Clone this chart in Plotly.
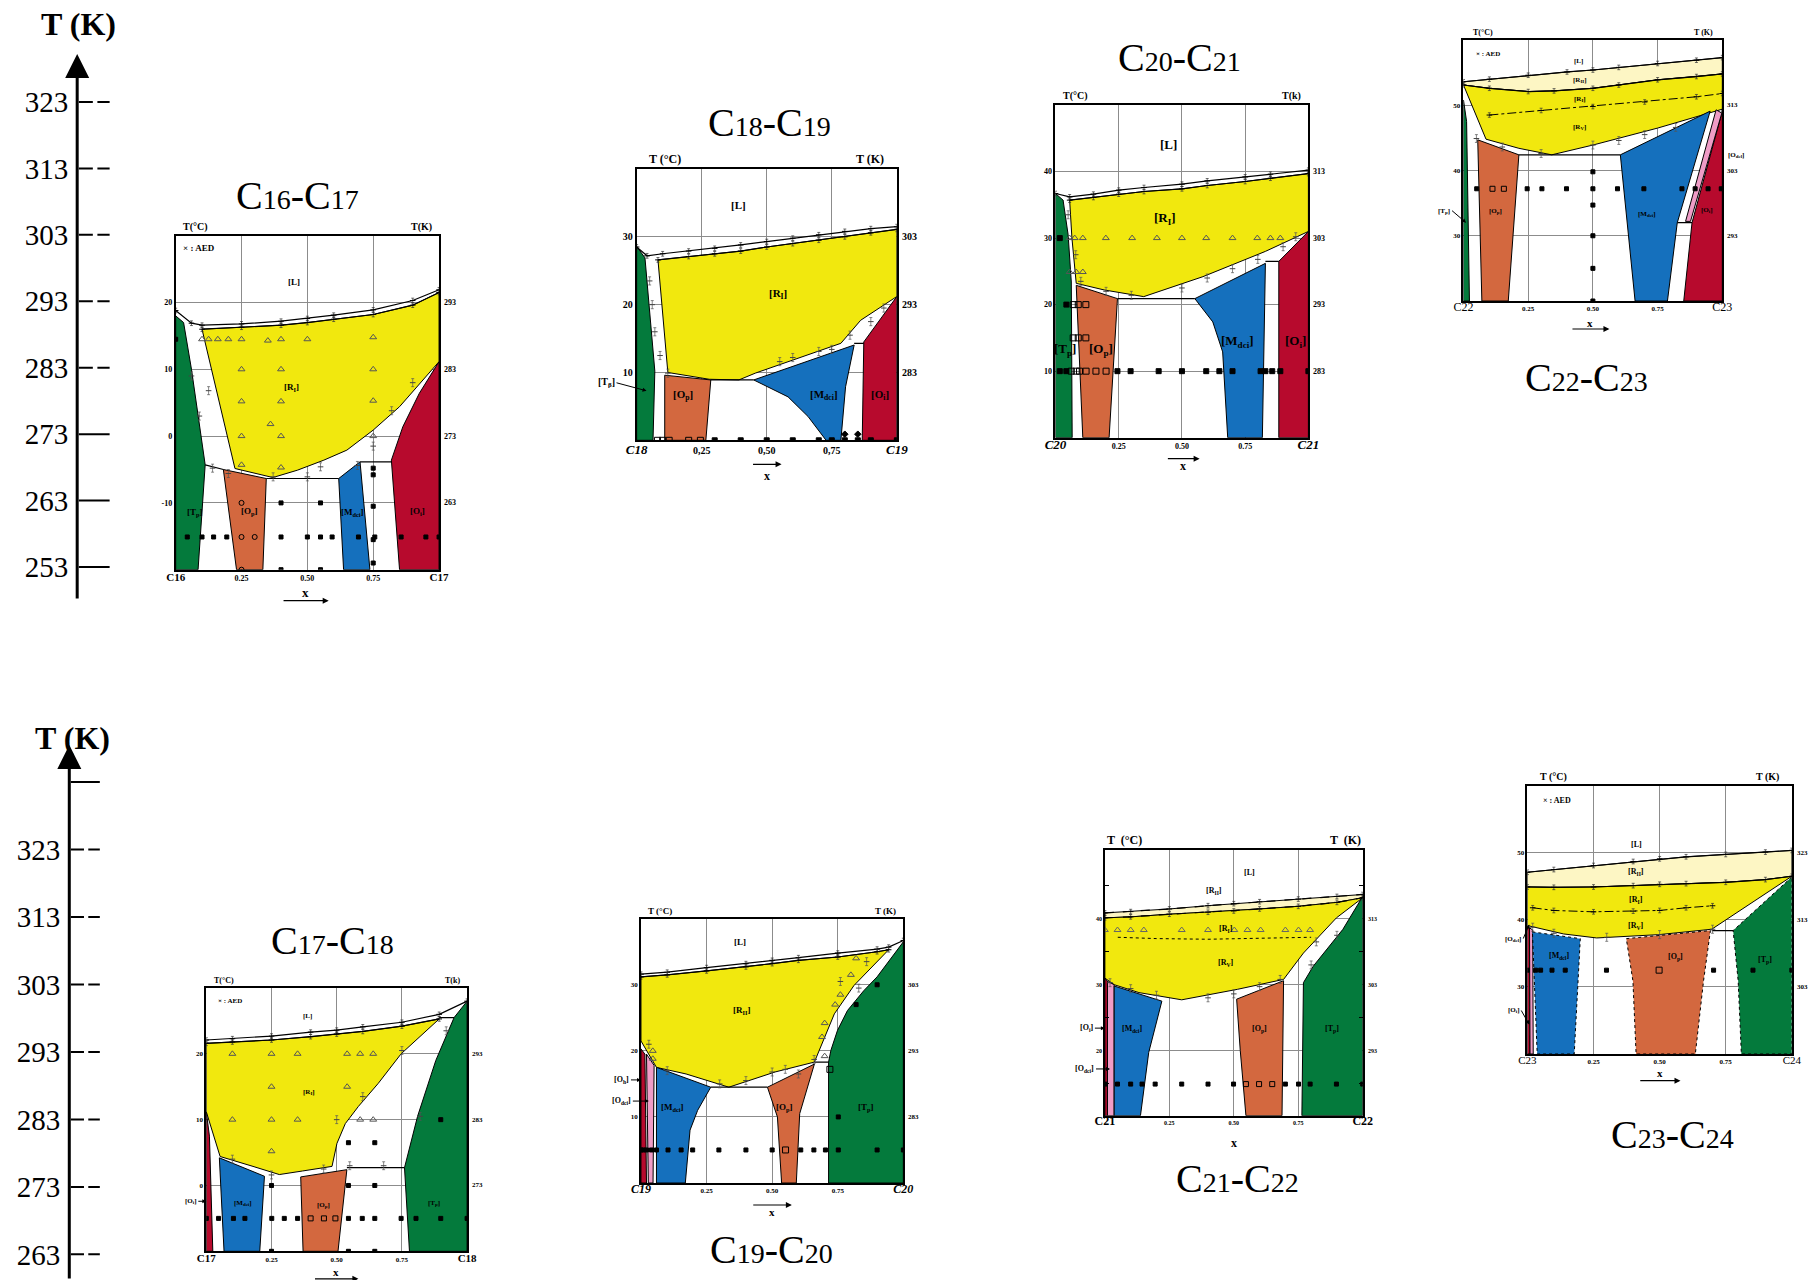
import plotly.graph_objects as go

W, H = 1816, 1280
SERIF = "Liberation Serif"

YELLOW = "#f1e80e"
PALE = "#fdf6c4"
GREEN = "#047a3c"
RED = "#b70a2d"
BLUE = "#1570bd"
ORANGE = "#d3683f"
PINK = "#ef9cc6"
GRID = "#8c8c8c"

# ---------------- left temperature scales (K) ----------------
K_TOP = [323, 313, 303, 293, 283, 273, 263, 253]
K_TOP_DASHED = [323, 313, 303, 293, 283]
K_BOT = [323, 313, 303, 293, 283, 273, 263]
K_BOT_UNLABELED = [333]

# ---------------- C16-C17 ----------------
D1_CT = [20, 10, 0, -10]
D1_KT = ["293", "283", "273", "263"]
D1_XT = ["C16", "0.25", "0.50", "0.75", "C17"]
D1_LIQ = ([0, 0.06, 0.1, 0.25, 0.4, 0.5, 0.6, 0.75, 0.9, 1.0], [18.8, 16.9, 16.6, 16.8, 17.2, 17.6, 18.1, 18.9, 20.3, 21.9])
D1_SOL = ([0.1, 0.25, 0.4, 0.5, 0.6, 0.75, 0.9, 1.0], [16.0, 16.3, 16.6, 17.0, 17.5, 18.2, 19.6, 21.5])
D1_YLOW = ([1.0, 0.9375, 0.85, 0.75, 0.65, 0.5625, 0.4625, 0.369, 0.225], [11.15, 8.4, 4.4, 0.9, -2.1, -3.6, -5.1, -6.2, -4.85])
D1_TP = ([0, 0, 0.03, 0.06, 0.112, 0.085], [-20, 18, 17.0, 10, -4.3, -20])
D1_OP = ([0.181, 0.344, 0.331, 0.231], [-5.0, -6.35, -20, -20])
D1_MDCI = ([0.619, 0.70, 0.7375, 0.6375], [-6.35, -3.85, -20, -20])
D1_OI = ([1.0, 0.925, 0.8625, 0.819, 0.85, 1.0], [11.15, 6.4, 1.4, -3.6, -20, -20])
D1_H1 = ([0.112, 0.181], [-4.3, -5.0])
D1_H2 = ([0.344, 0.619], [-6.35, -6.35])
D1_H3 = ([0.70, 0.819], [-3.85, -3.85])
D1_TRI = ([0.1, 0.125, 0.16, 0.2, 0.25, 0.35, 0.4, 0.5, 0.75, 0.25, 0.4, 0.75, 0.25, 0.4, 0.75, 0.36, 0.25, 0.4, 0.75, 0.25, 0.4],
          [14.5, 14.5, 14.5, 14.5, 14.5, 14.3, 14.5, 14.5, 14.8, 10, 10, 10, 5.2, 5.2, 5.3, 1.8, 0, 0, 0, -4.3, -4.7])
D1_SQ = ([0.1, 0.144, 0.194, 0.4, 0.5, 0.55, 0.594, 0.694, 0.756, 0.856, 0.95, 1.0, 0.4, 0.55, 0.75, 0.4, 0.55, 0.75, 0.75, 0.75, 0.75, 0.044, 0.0],
         [-15.1, -15.1, -15.1, -15.1, -15.1, -15.1, -15.1, -15.1, -15.1, -15.1, -15.1, -15.1, -10, -10, -10.5, -20, -20, -19, -4.8, -5.8, -15.5, -15.1, 14.5])
D1_OSQ = ([0.25, 0.3, 0.25, 0.25], [-15.1, -15.1, -10, -20])
D1_AED = ([0.06, 0.09, 0.125, 0.14, 0.2, 0.37, 0.5, 0.55, 0.69, 0.75, 0.82, 0.9],
          [9.0, 3.0, 6.8, -4.8, -5.6, -6.1, -6.1, -4.6, -4.4, -1.5, 3.8, 8.0])
D1_LABELS = [("[L]", 0.45, 23.0), ("[R<sub>I</sub>]", 0.44, 7.2), ("[T<sub>p</sub>]", 0.075, -11.5),
             ("[O<sub>p</sub>]", 0.28, -11.3), ("[M<sub>dci</sub>]", 0.67, -11.4), ("[O<sub>i</sub>]", 0.92, -11.3),
             ("× : AED", 0.09, 28.1)]

# ---------------- C18-C19 ----------------
D2_CT = [30, 20, 10]
D2_KT = ["303", "293", "283"]
D2_XT = ["C18", "0,25", "0,50", "0,75", "C19"]
D2_LIQ = ([0.0, 0.04, 0.1, 0.2, 0.3, 0.4, 0.5, 0.6, 0.7, 0.8, 0.9, 1.0], [28.5, 27.2, 27.5, 27.9, 28.3, 28.8, 29.3, 29.8, 30.3, 30.8, 31.2, 31.5])
D2_SOL = ([0.082, 0.2, 0.3, 0.4, 0.5, 0.6, 0.7, 0.8, 0.9, 1.0], [26.6, 27.1, 27.5, 27.9, 28.5, 29.0, 29.5, 30.0, 30.6, 31.1])
D2_YLOW = ([1.0, 0.861, 0.785, 0.456, 0.393, 0.279, 0.12], [21.2, 17.7, 14.3, 9.9, 8.9, 9.0, 10.0])
D2_TP = ([0, 0, 0.032, 0.07, 0.063], [0, 28.6, 26.9, 10.2, 0])
D2_OP = ([0.108, 0.285, 0.266, 0.108], [9.6, 8.9, 0, 0])
D2_MDCI = ([0.45, 0.836, 0.803, 0.785, 0.728, 0.659, 0.582], [8.9, 14.05, 7.9, 0, 0, 3.5, 6.4])
D2_OI = ([1.0, 0.873, 0.867, 1.0], [21.2, 14.5, 0, 0])
D2_H1 = ([0.285, 0.45], [8.9, 8.9])
D2_H2 = ([0.836, 0.873], [14.3, 14.3])
D2_SQ = ([0.3, 0.4, 0.5, 0.6, 0.7, 0.75, 0.8, 0.85, 0.9, 1.0], [0, 0, 0, 0, 0, 0, 0, 0, 0, 0])
D2_OSQ = ([0.08, 0.1, 0.125, 0.2, 0.245], [0, 0, 0, 0, 0])
D2_DIA = ([0.8, 0.85], [0.9, 0.9])
D2_AED = ([0.05, 0.06, 0.07, 0.09, 0.12, 0.55, 0.6, 0.7, 0.75, 0.82, 0.9, 0.95],
          [23.5, 20.0, 16.0, 12.5, 9.9, 11.6, 12.2, 13.1, 13.4, 15.5, 17.5, 19.5])
D2_LABELS = [("[L]", 0.39, 34.7), ("[R<sub>I</sub>]", 0.544, 21.5), ("[O<sub>p</sub>]", 0.177, 6.7),
             ("[M<sub>dci</sub>]", 0.72, 6.7), ("[O<sub>i</sub>]", 0.937, 6.7)]

# ---------------- C20-C21 ----------------
D3_CT = [40, 30, 20, 10]
D3_KT = ["313", "303", "293", "283"]
D3_XT = ["C20", "0.25", "0.50", "0.75", "C21"]
D3_LIQ = ([0, 0.056, 0.15, 0.25, 0.35, 0.5, 0.6, 0.75, 0.85, 1.0], [36.7, 36.2, 36.6, 37.2, 37.6, 38.1, 38.6, 39.2, 39.6, 40.2])
D3_SOL = ([0.056, 0.15, 0.25, 0.35, 0.5, 0.6, 0.75, 0.85, 1.0], [35.7, 36.1, 36.6, 37.0, 37.4, 37.9, 38.5, 39.0, 39.7])
D3_YLOW = ([1.0, 0.83, 0.583, 0.349, 0.193, 0.082, 0.065], [31.0, 28.0, 24.2, 21.2, 22.2, 23.2, 30.0])
D3_TP = ([0, 0, 0.03, 0.05, 0.0625, 0.066], [0, 36.7, 35.7, 30.5, 23.4, 0])
D3_OP = ([0.082, 0.245, 0.212, 0.108], [22.9, 20.9, 0, 0])
D3_MDCI = ([0.551, 0.83, 0.818, 0.681, 0.661, 0.622], [20.9, 26.2, 0, 0, 12.9, 17.4])
D3_OI = ([1.0, 0.883, 0.883, 1.0], [31.0, 26.5, 0, 0])
D3_H1 = ([0.245, 0.551], [20.9, 20.9])
D3_H2 = ([0.83, 0.883], [26.5, 26.5])
D3_TRI = ([0.056, 0.076, 0.108, 0.199, 0.303, 0.401, 0.5, 0.596, 0.7, 0.798, 0.85, 0.889, 0.056, 0.082, 0.108],
          [30, 30, 30, 30, 30, 30, 30, 30, 30, 30, 30, 30, 24.9, 24.9, 24.9])
D3_SQ = ([0.017, 0.043, 0.245, 0.297, 0.408, 0.5, 0.596, 0.648, 0.7, 0.811, 0.83, 0.857, 0.889, 1.0, 0.017, 0.043],
         [10, 10, 10, 10, 10, 10, 10, 10, 10, 10, 10, 10, 10, 10, 30, 20])
D3_OSQ = ([0.0625, 0.082, 0.095, 0.121, 0.16, 0.2, 0.07, 0.09, 0.12, 0.07, 0.09, 0.12],
          [10, 10, 10, 10, 10, 10, 20, 20, 20, 15, 15, 15])
D3_AED = ([0.05, 0.08, 0.1, 0.2, 0.3, 0.5, 0.6, 0.7, 0.8, 0.9, 0.95],
          [33.5, 27.5, 23.5, 22.0, 21.4, 22.5, 24.0, 25.4, 26.8, 28.7, 30.2])
D3_LABELS = [("[L]", 0.447, 44.0), ("[R<sub>I</sub>]", 0.434, 33.0), ("[T<sub>p</sub>]", 0.036, 13.2),
             ("[O<sub>p</sub>]", 0.18, 13.2), ("[M<sub>dci</sub>]", 0.72, 14.4), ("[O<sub>i</sub>]", 0.948, 14.4)]

# ---------------- C22-C23 ----------------
D4_CT = [50, 40, 30]
D4_KT = ["313", "303", "293"]
D4_XT = ["C22", "0.25", "0.50", "0.75", "C23"]
D4_LIQ = ([0, 0.1, 0.25, 0.4, 0.5, 0.6, 0.75, 0.9, 1.0], [53.6, 54.0, 54.6, 55.1, 55.4, 55.8, 56.4, 56.9, 57.3])
D4_SOL = ([0, 0.1, 0.25, 0.35, 0.5, 0.6, 0.75, 0.9, 1.0], [53.1, 52.6, 52.1, 52.2, 52.6, 53.1, 53.9, 54.4, 54.8])
D4_RV = ([0.1, 0.3, 0.5, 0.7, 0.9, 1.0], [48.5, 49.2, 49.8, 50.5, 51.3, 51.8])
D4_YLOW = ([1.0, 0.75, 0.5, 0.341, 0.214, 0.087], [49.4, 46.5, 43.9, 42.4, 43.4, 44.8])
D4_TP = ([0, 0, 0.012, 0.023], [20, 50.8, 47.5, 20])
D4_OP = ([0.055, 0.214, 0.173, 0.071], [44.7, 42.4, 20, 20])
D4_MDCI = ([0.606, 0.953, 0.826, 0.788, 0.663, 0.634], [42.4, 49.1, 32.0, 20, 20, 31.4])
D4_OI = ([0.998, 1.0, 1.0, 0.851, 0.883], [48.8, 49.4, 20, 20, 32.0])
D4_ODCI = ([0.976, 0.998, 0.877, 0.858], [49.3, 48.8, 32.2, 32.2])
D4_H1 = ([0.214, 0.606], [42.4, 42.4])
D4_H2 = ([0.826, 0.883], [32.0, 32.0])
D4_SQ = ([0.051, 0.246, 0.303, 0.398, 0.5, 0.595, 0.697, 0.844, 0.895, 0.945, 0.996, 0.5, 0.5, 0.5, 0.5, 0.5],
         [37.2, 37.2, 37.2, 37.2, 37.2, 37.2, 37.2, 37.2, 37.2, 37.2, 37.2, 39.8, 34.7, 30, 25, 20])
D4_OSQ = ([0.112, 0.156], [37.2, 37.2])
D4_AED = ([0.05, 0.15, 0.3, 0.5, 0.6, 0.7, 0.82], [44.9, 43.6, 42.6, 43.9, 44.6, 45.5, 46.6])
D4_LABELS = [("[L]", 0.443, 56.8), ("[R<sub>II</sub>]", 0.449, 53.8), ("[R<sub>I</sub>]", 0.449, 50.9),
             ("[R<sub>V</sub>]", 0.449, 46.6), ("[O<sub>p</sub>]", 0.122, 33.8), ("[M<sub>dci</sub>]", 0.71, 33.4),
             ("[O<sub>i</sub>]", 0.94, 33.9), ("× : AED", 0.093, 57.9)]

# ---------------- C17-C18 ----------------
D5_CT = [20, 10, 0]
D5_KT = ["293", "283", "273"]
D5_XT = ["C17", "0.25", "0.50", "0.75", "C18"]
D5_LIQ = ([0, 0.1, 0.25, 0.4, 0.5, 0.6, 0.75, 0.893, 1.0], [22.1, 22.3, 22.7, 23.3, 23.6, 24.1, 24.8, 26.0, 28.0])
D5_SOL = ([0, 0.1, 0.25, 0.4, 0.5, 0.6, 0.75, 0.893], [21.6, 21.8, 22.1, 22.6, 23.0, 23.4, 24.2, 25.3])
D5_YLOW = ([0.747, 0.659, 0.583, 0.533, 0.501, 0.482, 0.369, 0.28, 0.179, 0.053, 0],
           [20.0, 15.5, 12.0, 9.4, 6.4, 2.9, 2.2, 1.66, 2.9, 4.4, 11.2])
D5_OI = ([0, 0.012, 0.025, 0], [11.2, 7.5, -10, -10])
D5_MDCI = ([0.05, 0.223, 0.205, 0.068], [4.2, 1.4, -10, -10])
D5_OP = ([0.362, 0.539, 0.505, 0.371], [1.3, 2.4, -10, -10])
D5_TP = ([1.0, 0.95, 0.88, 0.81, 0.76, 0.779, 1.0], [28.0, 25.5, 19.0, 10.5, 2.7, -10, -10])
D5_H1 = ([0.539, 0.76], [2.7, 2.7])
D5_H2 = ([0.893, 0.95], [25.5, 25.5])
D5_TRI = ([0.1, 0.25, 0.35, 0.54, 0.59, 0.64, 0.25, 0.54, 0.1, 0.25, 0.35, 0.25, 0.59, 0.64],
          [20, 20, 20, 20, 20, 20, 15, 15, 10, 10, 10, 5.2, 10, 10])
D5_SQ = ([0.0, 0.047, 0.104, 0.148, 0.251, 0.299, 0.35, 0.545, 0.598, 0.646, 0.747, 0.804, 0.899, 1.0, 0.25, 0.545, 0.646, 0.25, 0.545, 0.646, 0.545, 0.646, 0.899],
         [-5, -5, -5, -5, -5, -5, -5, -5, -5, -5, -5, -5, -5, -5, 0, 0, 0, -10, -10, -10, 6.5, 6.5, 10])
D5_OSQ = ([0.4, 0.451, 0.495], [-5, -5, -5])
D5_AED = ([0.1, 0.25, 0.45, 0.5, 0.55, 0.6, 0.68, 0.75, 0.82, 0.92],
          [4.0, 1.6, 2.5, 10.0, 3.0, 13.5, 3.0, 20.5, 10.5, 23.5])
D5_LABELS = [("[L]", 0.388, 25.8), ("[R<sub>I</sub>]", 0.394, 14.2), ("[M<sub>dci</sub>]", 0.14, -2.6),
             ("[O<sub>p</sub>]", 0.45, -2.9), ("[T<sub>p</sub>]", 0.874, -2.6), ("× : AED", 0.091, 28.0)]

# ---------------- C19-C20 ----------------
D6_CT = [30, 20, 10]
D6_KT = ["303", "293", "283"]
D6_XT = ["C19", "0.25", "0.50", "0.75", "C20"]
D6_LIQ = ([0, 0.1, 0.25, 0.4, 0.5, 0.6, 0.75, 0.9, 0.944, 1.0], [31.6, 31.9, 32.6, 33.2, 33.7, 34.1, 34.8, 35.4, 35.7, 36.7])
D6_SOL = ([0, 0.1, 0.25, 0.4, 0.5, 0.6, 0.75, 0.9, 0.944], [31.2, 31.5, 32.1, 32.7, 33.2, 33.7, 34.2, 35.0, 35.3])
D6_YLOW = ([0.812, 0.737, 0.661, 0.511, 0.335, 0.172, 0.059, 0], [29.9, 25.6, 18.3, 16.8, 14.5, 16.5, 17.5, 21.5])
D6_OH = ([0, 0.015, 0.021, 0], [20.3, 19.5, 0, 0])
D6_ODCI = ([0.021, 0.05, 0.046, 0.028], [19.5, 17.8, 0, 0])
D6_MDCI = ([0.059, 0.266, 0.216, 0.187, 0.169, 0.059], [17.5, 14.5, 11, 8, 0, 0])
D6_OP = ([0.482, 0.661, 0.605, 0.592, 0.536, 0.52], [14.5, 18.0, 10.5, 0, 0, 10])
D6_TP = ([1.0, 0.9, 0.849, 0.787, 0.749, 0.724, 0.715, 0.715, 1.0], [36.5, 31.2, 29.1, 26.1, 23.1, 20.1, 18.3, 0, 0])
D6_H1 = ([0.266, 0.482], [14.5, 14.5])
D6_H2 = ([0.661, 0.715], [18.3, 18.3])
D6_TRI = ([0.82, 0.8, 0.76, 0.74, 0.7, 0.69, 0.7, 0.045, 0.045], [34.0, 31.5, 28.5, 27.0, 24.2, 22.1, 19.2, 20.0, 18.8])
D6_SQ = ([0, 0.009, 0.021, 0.04, 0.059, 0.103, 0.153, 0.197, 0.297, 0.4, 0.5, 0.609, 0.659, 0.703, 0.752, 0.9, 1.0, 0.9, 0.752, 0.82],
         [5, 5, 5, 5, 5, 5, 5, 5, 5, 5, 5, 5, 5, 5, 5, 5, 5, 30, 10, 27])
D6_OSQ = ([0.551, 0.72], [5, 17.2])
D6_AED = ([0.03, 0.1, 0.3, 0.4, 0.5, 0.55, 0.6, 0.66, 0.76, 0.83, 0.86],
          [21.0, 17.0, 15.0, 15.5, 16.8, 17.2, 16.5, 18.7, 30.5, 29.5, 33.5])
D6_LABELS = [("[L]", 0.379, 36.5), ("[R<sub>II</sub>]", 0.382, 26.1), ("[M<sub>dci</sub>]", 0.122, 11.4),
             ("[O<sub>p</sub>]", 0.548, 11.4), ("[T<sub>p</sub>]", 0.856, 11.4)]

# ---------------- C21-C22 ----------------
D7_CT = [40, 30, 20]
D7_KT = ["313", "303", "293"]
D7_MINOR = [15, 25, 35, 45]
D7_XT = ["C21", "0.25", "0.50", "0.75", "C22"]
D7_LIQ = ([0, 0.1, 0.25, 0.4, 0.5, 0.6, 0.75, 0.9, 1.0], [40.9, 41.1, 41.5, 42.0, 42.3, 42.6, 43.0, 43.4, 43.7])
D7_SOL = ([0, 0.1, 0.25, 0.4, 0.5, 0.6, 0.75, 0.9, 1.0], [40.15, 40.3, 40.7, 41.0, 41.2, 41.5, 41.9, 42.5, 43.2])
D7_RV = ([0.05, 0.2, 0.4, 0.6, 0.8], [37.2, 37.0, 36.9, 37.0, 37.2])
D7_YLOW = ([0.898, 0.77, 0.693, 0.515, 0.298, 0.132, 0.036, 0], [40.15, 34.8, 30.8, 29.3, 27.7, 28.8, 30.0, 31.0])
D7_OI = ([0, 0.01, 0.01, 0], [31.0, 30.5, 10.1, 10.1])
D7_ODCI = ([0.01, 0.036, 0.036, 0.01], [30.5, 30.0, 10.1, 10.1])
D7_MDCI = ([0.036, 0.221, 0.17, 0.138, 0.036], [29.8, 27.5, 19.7, 10.1, 10.1])
D7_OP = ([0.511, 0.693, 0.687, 0.547, 0.525], [27.8, 30.6, 10.1, 10.1, 20.0])
D7_TP = ([1.0, 0.923, 0.808, 0.77, 0.764, 1.0], [43.4, 38.4, 32.8, 30.3, 10.1, 10.1])
D7_TRI = ([0.0, 0.049, 0.1, 0.151, 0.298, 0.4, 0.502, 0.553, 0.604, 0.7, 0.751, 0.796],
          [38.3, 38.3, 38.3, 38.3, 38.3, 38.3, 38.3, 38.3, 38.3, 38.3, 38.3, 38.3])
D7_SQ = ([0, 0.049, 0.1, 0.144, 0.195, 0.298, 0.4, 0.499, 0.7, 0.751, 0.796, 0.898, 1.0],
         [14.9, 14.9, 14.9, 14.9, 14.9, 14.9, 14.9, 14.9, 14.9, 14.9, 14.9, 14.9, 14.9])
D7_OSQ = ([0.547, 0.598, 0.649], [14.9, 14.9, 14.9])
D7_AED = ([0.02, 0.1, 0.2, 0.4, 0.5, 0.6, 0.68, 0.82, 0.9, 0.8], [30.3, 29.4, 28.4, 28.0, 28.6, 29.7, 30.8, 36.5, 37.5, 33.0])
D7_LABELS = [("[L]", 0.559, 47.0), ("[R<sub>II</sub>]", 0.425, 44.3), ("[R<sub>I</sub>]", 0.47, 38.4),
             ("[R<sub>V</sub>]", 0.47, 33.3), ("[M<sub>dci</sub>]", 0.106, 23.2), ("[O<sub>p</sub>]", 0.598, 23.2),
             ("[T<sub>p</sub>]", 0.879, 23.2)]

# ---------------- C23-C24 ----------------
D8_CT = [50, 40, 30]
D8_KT = ["323", "313", "303"]
D8_XT = ["C23", "0.25", "0.50", "0.75", "C24"]
D8_LIQ = ([0, 0.1, 0.25, 0.4, 0.5, 0.6, 0.75, 0.9, 1.0], [47.1, 47.5, 48.1, 48.7, 49.1, 49.4, 49.75, 50.1, 50.35])
D8_SOL = ([0, 0.1, 0.25, 0.4, 0.5, 0.6, 0.75, 0.9, 1.0], [44.9, 44.85, 44.9, 45.1, 45.3, 45.4, 45.6, 46.0, 46.5])
D8_RV = ([0.02, 0.1, 0.25, 0.4, 0.5, 0.6, 0.7], [41.8, 41.4, 41.2, 41.3, 41.4, 41.8, 42.1])
D8_YLOW = ([0.697, 0.498, 0.262, 0.137, 0], [38.6, 37.8, 37.3, 37.9, 39.15])
D8_OI = ([0, 0.008, 0.01, 0], [39.1, 38.8, 20, 20])
D8_ODCI = ([0.008, 0.02, 0.022, 0.01], [38.8, 38.5, 20, 20])
D8_MDCI = ([0.019, 0.2, 0.177, 0.037], [38.2, 37.2, 20, 20])
D8_OP = ([0.374, 0.692, 0.666, 0.635, 0.411, 0.399], [37.2, 38.4, 30.9, 20, 20, 30.9])
D8_TP = ([1.0, 0.778, 0.797, 0.809, 1.0], [46.4, 38.4, 30.9, 20, 20])
D8_H1 = ([0.697, 0.778], [38.4, 38.4])
D8_SQ = ([0, 0.031, 0.05, 0.093, 0.143, 0.299, 0.704, 0.853, 1.0], [32.5, 32.5, 32.5, 32.5, 32.5, 32.5, 32.5, 32.5, 32.5])
D8_OSQ = ([0.498], [32.5])
D8_AED = ([0.02, 0.1, 0.3, 0.5, 0.7], [38.9, 38.0, 37.4, 37.8, 38.6])
D8_LABELS = [("[L]", 0.411, 51.2), ("[R<sub>II</sub>]", 0.411, 47.1), ("[R<sub>I</sub>]", 0.411, 43.0),
             ("[R<sub>V</sub>]", 0.411, 39.1), ("[M<sub>dcl</sub>]", 0.118, 34.6), ("[O<sub>p</sub>]", 0.56, 34.4),
             ("[T<sub>p</sub>]", 0.897, 34.0), ("× : AED", 0.112, 57.8)]

fig = go.Figure()
axes = {}
ann = []


def ids(i):
    return ("x", "y") if i == 1 else (f"x{i}", f"y{i}")


def join(a, b):
    return (list(a[0]) + list(b[0]), list(a[1]) + list(b[1]))


def rev(a):
    return (list(a[0])[::-1], list(a[1])[::-1])


def poly(i, p, color, dash="solid"):
    xa, ya = ids(i)
    xs, ts = list(p[0]), list(p[1])
    fig.add_trace(go.Scatter(x=xs + [xs[0]], y=ts + [ts[0]], mode="lines", fill="toself", fillcolor=color,
                             line=dict(color="black", width=1, dash=dash), xaxis=xa, yaxis=ya,
                             hoverinfo="skip", showlegend=False))


def curve(i, p, dash="solid", err=True, width=1.2):
    xa, ya = ids(i)
    fig.add_trace(go.Scatter(x=p[0], y=p[1], mode="lines+markers" if err else "lines",
                             line=dict(color="black", width=width, dash=dash),
                             marker=dict(symbol="line-ew", size=4, color="black", line=dict(width=1, color="black")),
                             error_y=dict(type="constant", value=0.35, width=1.5, thickness=0.7, color="#333", visible=err),
                             xaxis=xa, yaxis=ya, hoverinfo="skip", showlegend=False))


def dots(i, p, symbol, size=4, color="black", err=False):
    xa, ya = ids(i)
    kw = {}
    if err:
        kw["error_y"] = dict(type="constant", value=0.6, width=1.5, thickness=0.7, color="#555")
    fig.add_trace(go.Scatter(x=p[0], y=p[1], mode="markers",
                             marker=dict(symbol=symbol, size=size, color=color, line=dict(width=1, color=color)),
                             xaxis=xa, yaxis=ya, hoverinfo="skip", showlegend=False, **kw))


def labels(i, items, size):
    xa, ya = ids(i)
    for text, x, t in items:
        ann.append(dict(x=x, y=t, xref=xa, yref=ya, text=f"<b>{text}</b>", showarrow=False,
                        font=dict(family=SERIF, size=size, color="black")))


def callout(i, text, x, t, ax, ay, size, xanchor="center"):
    xa, ya = ids(i)
    ann.append(dict(x=x, y=t, xref=xa, yref=ya, text=f"<b>{text}</b>", showarrow=True, ax=ax, ay=ay,
                    arrowhead=2, arrowsize=0.8, arrowwidth=1, arrowcolor="black", xanchor=xanchor,
                    font=dict(family=SERIF, size=size, color="black")))


def setup(i, box, trange, cvals, ktext, xt, heads, fs, cstyle, title, tpos, xarrow, minor=None):
    x0, y0, x1, y1 = box
    xa, ya = ids(i)
    key = "" if i == 1 else str(i)
    tick_fs, c_fs, head_fs, x_fs = fs
    b0, b1 = ("<b>", "</b>") if "b" in cstyle else ("", "")
    i0, i1 = ("<i>", "</i>") if "i" in cstyle else ("", "")
    ticktext = []
    for k, s in enumerate(xt):
        if k in (0, 4):
            ticktext.append(f"<span style='font-size:{c_fs}px'>{b0}{i0}{s}{i1}{b1}</span>")
        else:
            ticktext.append(f"<b>{s}</b>")
    axes["xaxis" + key] = dict(domain=[x0 / W, x1 / W], range=[0, 1], anchor=ya, tickmode="array",
                               tickvals=[0, 0.25, 0.5, 0.75, 1], ticktext=ticktext, showgrid=True,
                               gridcolor=GRID, gridwidth=1, showline=True, linecolor="black", linewidth=1.6,
                               mirror=True, ticks="", zeroline=False, fixedrange=True,
                               tickfont=dict(family=SERIF, size=tick_fs, color="black"))
    yd = dict(domain=[1 - y1 / H, 1 - y0 / H], range=trange, anchor=xa, tickmode="array", tickvals=cvals,
              ticktext=[f"<b>{v}</b>" for v in cvals], showgrid=True, gridcolor=GRID, gridwidth=1,
              showline=True, linecolor="black", linewidth=1.6, mirror=True, ticks="", zeroline=False,
              fixedrange=True, tickfont=dict(family=SERIF, size=tick_fs, color="black"))
    if minor:
        yd["mirror"] = "ticks"
        yd["minor"] = dict(tickmode="array", tickvals=minor, ticks="inside", ticklen=4, tickcolor="black", showgrid=False)
    axes["yaxis" + key] = yd
    for v, k in zip(cvals, ktext):
        ann.append(dict(x=1, xref=f"{xa} domain", y=v, yref=ya, text=f"<b>{k}</b>", xanchor="left", xshift=3,
                        showarrow=False, font=dict(family=SERIF, size=tick_fs, color="black")))
    hl, hr, hx = heads
    ann.append(dict(x=hx, xref=f"{xa} domain", y=1, yref=f"{ya} domain", text=f"<b>{hl}</b>", yanchor="bottom",
                    yshift=1, showarrow=False, font=dict(family=SERIF, size=head_fs, color="black")))
    ann.append(dict(x=1 - hx, xref=f"{xa} domain", y=1, yref=f"{ya} domain", text=f"<b>{hr}</b>", yanchor="bottom",
                    yshift=1, showarrow=False, font=dict(family=SERIF, size=head_fs, color="black")))
    bh = y1 - y0
    bw = x1 - x0
    xs, xe, aoff, loff = xarrow
    ann.append(dict(x=(xs + xe) / 2 if xs is not None else 0.5, xref=f"{xa} domain", y=-loff / bh,
                    yref=f"{ya} domain", text="<b>x</b>", showarrow=False, yanchor="middle",
                    font=dict(family=SERIF, size=x_fs, color="black")))
    if xs is not None:
        ann.append(dict(x=xe, xref=f"{xa} domain", y=-aoff / bh, yref=f"{ya} domain", text="", showarrow=True,
                        ax=-(xe - xs) * bw, ay=0, arrowhead=2, arrowsize=1, arrowwidth=1.2, arrowcolor="black"))
    a, b = title
    small = "<span style='font-size:28px'>"
    ann.append(dict(x=tpos[0] / W, y=1 - tpos[1] / H, xref="paper", yref="paper",
                    text=f"C{small}{a}</span>-C{small}{b}</span>", showarrow=False,
                    font=dict(family=SERIF, size=40, color="black"), xanchor="center", yanchor="middle"))


# ---------------- draw diagrams ----------------
# 1: C16-C17
poly(1, D1_TP, GREEN)
poly(1, join(D1_SOL, D1_YLOW), YELLOW)
poly(1, D1_OP, ORANGE)
poly(1, D1_MDCI, BLUE)
poly(1, D1_OI, RED)
curve(1, D1_LIQ)
curve(1, D1_SOL)
for h in (D1_H1, D1_H2, D1_H3):
    curve(1, h, err=False)
dots(1, D1_AED, "line-ew", 4, "#444", err=True)
dots(1, D1_TRI, "triangle-up-open", 6, "#555")
dots(1, D1_SQ, "square", 4)
dots(1, D1_OSQ, "circle-open", 5)
labels(1, D1_LABELS, 9)
setup(1, (166.7, 235.7, 433.3, 569.7), [-20, 30], D1_CT, D1_KT, D1_XT, ("T(°C)", "T(K)", 0.02), (8, 11, 10, 13),
      "b", ("16", "17"), (290, 196), (0.406, 0.581, 31, 23))

# 2: C18-C19
poly(2, D2_TP, GREEN)
poly(2, join(D2_SOL, D2_YLOW), YELLOW)
poly(2, D2_OP, ORANGE)
poly(2, D2_MDCI, BLUE)
poly(2, D2_OI, RED)
curve(2, D2_LIQ)
curve(2, D2_SOL)
for h in (D2_H1, D2_H2):
    curve(2, h, err=False)
dots(2, D2_AED, "line-ew", 4, "#444", err=True)
dots(2, D2_SQ, "square", 5)
dots(2, D2_OSQ, "square-open", 6)
dots(2, D2_DIA, "diamond", 5)
labels(2, D2_LABELS, 11)
callout(2, "[T<sub>β</sub>]", 0.038, 7.3, -30, -8, 10, "right")
setup(2, (633.3, 169, 896.7, 440.3), [0, 40], D2_CT, D2_KT, D2_XT, ("T (°C)", "T (K)", 0.04), (10, 13, 12, 12),
      "bi", ("18", "19"), (768, 123), (0.443, 0.557, 24, 36))

# 3: C20-C21
poly(3, D3_TP, GREEN)
poly(3, join(D3_SOL, D3_YLOW), YELLOW)
poly(3, D3_OP, ORANGE)
poly(3, D3_MDCI, BLUE)
poly(3, D3_OI, RED)
curve(3, D3_LIQ)
curve(3, D3_SOL)
for h in (D3_H1, D3_H2):
    curve(3, h, err=False)
dots(3, D3_AED, "line-ew", 4, "#444", err=True)
dots(3, D3_TRI, "triangle-up-open", 6, "#555")
dots(3, D3_SQ, "square", 5)
dots(3, D3_OSQ, "square-open", 6)
labels(3, D3_LABELS, 13)
setup(3, (1057.3, 105, 1313.3, 437.7), [0, 50], D3_CT, D3_KT, D3_XT, ("T(°C)", "T(k)", 0.02), (8, 13, 10, 12),
      "bi", ("20", "21"), (1183, 58), (0.44, 0.57, 21, 28))

# 4: C22-C23
poly(4, join(D4_LIQ, rev(D4_SOL)), PALE)
poly(4, join(D4_SOL, D4_YLOW), YELLOW)
poly(4, D4_TP, GREEN)
poly(4, D4_OP, ORANGE)
poly(4, D4_MDCI, BLUE)
poly(4, D4_OI, RED)
poly(4, D4_ODCI, PINK)
curve(4, D4_LIQ)
curve(4, D4_SOL)
curve(4, D4_RV, dash="dashdot", width=1)
for h in (D4_H1, D4_H2):
    curve(4, h, err=False)
dots(4, D4_AED, "line-ew", 4, "#444", err=True)
dots(4, D4_SQ, "square", 4)
dots(4, D4_OSQ, "square-open", 5)
labels(4, D4_LABELS, 7)
callout(4, "[T<sub>p</sub>]", 0.01, 32.0, -14, -12, 7, "right")
callout(4, "[O<sub>dcl</sub>]", 0.977, 46.0, 20, 24, 7)
setup(4, (1470.3, 40, 1732.3, 301), [20, 60], D4_CT, D4_KT, D4_XT, ("T(°C)", "T (K)", 0.03), (7, 12, 8, 11),
      "", ("22", "23"), (1595, 377), (0.417, 0.564, 28, 22))

# 5: C17-C18
poly(5, join(D5_SOL, D5_YLOW), YELLOW)
poly(5, D5_OI, RED)
poly(5, D5_MDCI, BLUE)
poly(5, D5_OP, ORANGE)
poly(5, D5_TP, GREEN)
curve(5, D5_LIQ)
curve(5, D5_SOL)
for h in (D5_H1, D5_H2):
    curve(5, h, err=False)
dots(5, D5_AED, "line-ew", 4, "#444", err=True)
dots(5, D5_TRI, "triangle-up-open", 6, "#555")
dots(5, D5_SQ, "square", 4)
dots(5, D5_OSQ, "square-open", 5)
labels(5, D5_LABELS, 7)
callout(5, "[O<sub>i</sub>]", 0.0, -2.4, -8, 0, 7, "right")
setup(5, (197.7, 988, 461.7, 1251.3), [-10, 30], D5_CT, D5_KT, D5_XT, ("T(°C)", "T(k)", 0.02), (7, 11, 8, 11),
      "b", ("17", "18"), (325, 940), (0.413, 0.583, 27.5, 21))

# 6: C19-C20
poly(6, join(D6_SOL, D6_YLOW), YELLOW)
poly(6, D6_OH, RED)
poly(6, D6_ODCI, PINK)
poly(6, D6_MDCI, BLUE)
poly(6, D6_OP, ORANGE)
poly(6, D6_TP, GREEN)
curve(6, D6_LIQ)
curve(6, D6_SOL)
for h in (D6_H1, D6_H2):
    curve(6, h, err=False)
dots(6, D6_AED, "line-ew", 4, "#444", err=True)
dots(6, D6_TRI, "triangle-up-open", 6, "#555")
dots(6, D6_SQ, "square", 4)
dots(6, D6_OSQ, "square-open", 6)
labels(6, D6_LABELS, 9)
callout(6, "[O<sub>h</sub>]", 0.0, 15.6, -10, 0, 8, "right")
callout(6, "[O<sub>dci</sub>]", 0.03, 12.4, -16, 0, 8, "right")
setup(6, (637.7, 918.7, 903.3, 1183), [0, 40], D6_CT, D6_KT, D6_XT, ("T (°C)", "T (K)", 0.02), (7, 12, 9, 11),
      "bi", ("19", "20"), (770, 1249), (0.424, 0.575, 22, 29))

# 7: C21-C22
poly(7, join(D7_LIQ, rev(D7_SOL)), PALE)
poly(7, join(D7_SOL, D7_YLOW), YELLOW)
poly(7, D7_OI, RED)
poly(7, D7_ODCI, PINK)
poly(7, D7_MDCI, BLUE)
poly(7, D7_OP, ORANGE)
poly(7, D7_TP, GREEN)
curve(7, D7_LIQ, dash="dash")
curve(7, D7_SOL, dash="dash")
curve(7, D7_RV, dash="dot", err=False, width=1)
dots(7, D7_AED, "line-ew", 4, "#444", err=True)
dots(7, D7_TRI, "triangle-up-open", 6, "#666")
dots(7, D7_SQ, "square", 4)
dots(7, D7_OSQ, "square-open", 5)
labels(7, D7_LABELS, 8)
callout(7, "[O<sub>i</sub>]", 0.0, 23.4, -10, 0, 8, "right")
callout(7, "[O<sub>dci</sub>]", 0.02, 17.2, -14, 0, 8, "right")
setup(7, (1107.3, 849.7, 1368.3, 1115.7), [10.1, 50.5], D7_CT, D7_KT, D7_XT, ("T  (°C)", "T  (K)", 0.0),
      (6, 12, 12, 12), "b", ("21", "22"), (1242, 1178), (None, None, 0, 27), minor=D7_MINOR)

# 8: C23-C24
poly(8, join(D8_LIQ, rev(D8_SOL)), PALE)
poly(8, join(D8_SOL, D8_YLOW), YELLOW)
poly(8, D8_OI, RED)
poly(8, D8_ODCI, PINK)
poly(8, D8_MDCI, BLUE, dash="dot")
poly(8, D8_OP, ORANGE, dash="dot")
poly(8, D8_TP, GREEN, dash="dot")
curve(8, D8_LIQ)
curve(8, D8_SOL)
curve(8, D8_RV, dash="dashdot", width=1)
curve(8, D8_H1, err=False)
dots(8, D8_AED, "line-ew", 4, "#444", err=True)
dots(8, D8_SQ, "square", 4)
dots(8, D8_OSQ, "square-open", 6)
labels(8, D8_LABELS, 8)
callout(8, "[O<sub>dcl</sub>]", 0.007, 39.3, -6, 14, 7, "right")
callout(8, "[O<sub>i</sub>]", 0.007, 24.4, -8, -14, 7, "right")
setup(8, (1535, 785.7, 1802.7, 1054), [20, 60], D8_CT, D8_KT, D8_XT, ("T (°C)", "T (K)", 0.04), (7, 11, 10, 11),
      "", ("23", "24"), (1682, 1134), (0.423, 0.579, 26.7, 19))

# ---------------- left K scales ----------------
TOP_R = [248.03, 330.23]
BOT_R = [259.2, 338.5]
axes["xaxis9"] = dict(domain=[67 / W, 100 / W], range=[0, 1], anchor="y9", visible=False, fixedrange=True)
axes["yaxis9"] = dict(domain=[1 - 600 / H, 1 - 54 / H], range=TOP_R, anchor="x9", tickmode="array", tickvals=K_TOP,
                      ticktext=[str(k) for k in K_TOP], showgrid=False, showline=False, zeroline=False, ticks="",
                      ticklabelstandoff=8, fixedrange=True, tickfont=dict(family=SERIF, size=29, color="black"))
axes["xaxis10"] = dict(domain=[59 / W, 90 / W], range=[0, 1], anchor="y10", visible=False, fixedrange=True)
axes["yaxis10"] = dict(domain=[0, 1 - 745 / H], range=BOT_R, anchor="x10", tickmode="array", tickvals=K_BOT,
                       ticktext=[str(k) for k in K_BOT], showgrid=False, showline=False, zeroline=False, ticks="",
                       ticklabelstandoff=8, fixedrange=True, tickfont=dict(family=SERIF, size=29, color="black"))


def tick_trace(xa, ya, values, dashed):
    xs, ys = [], []
    for v in values:
        if v in dashed:
            xs += [0.05, 0.48, None, 0.62, 1.0, None]
            ys += [v, v, None, v, v, None]
        else:
            xs += [0.05, 1.0, None]
            ys += [v, v, None]
    fig.add_trace(go.Scatter(x=xs, y=ys, mode="lines", line=dict(color="black", width=2), xaxis=xa, yaxis=ya,
                             hoverinfo="skip", showlegend=False))


tick_trace("x9", "y9", K_TOP, K_TOP_DASHED)
tick_trace("x10", "y10", K_BOT + K_BOT_UNLABELED, K_BOT)

for xa, ya, rng in (("x9", "y9", TOP_R), ("x10", "y10", BOT_R)):
    ann.append(dict(x=0, y=rng[1], xref=xa, yref=ya, ax=0, ay=rng[0], axref=xa, ayref=ya, text="",
                    showarrow=True, arrowhead=2, arrowsize=1.6, arrowwidth=3, arrowcolor="black"))

ann.append(dict(x=68 / W, y=1 - 24 / H, xref="paper", yref="paper", text="<b>T (K)</b>", showarrow=False,
                xanchor="center", yanchor="middle", font=dict(family=SERIF, size=32, color="black")))
ann.append(dict(x=62 / W, y=1 - 738 / H, xref="paper", yref="paper", text="<b>T (K)</b>", showarrow=False,
                xanchor="center", yanchor="middle", font=dict(family=SERIF, size=32, color="black")))

fig.update_layout(width=W, height=H, margin=dict(l=0, r=0, t=0, b=0), paper_bgcolor="white",
                  plot_bgcolor="white", showlegend=False, annotations=ann, **axes)
fig.write_html("out.html")
